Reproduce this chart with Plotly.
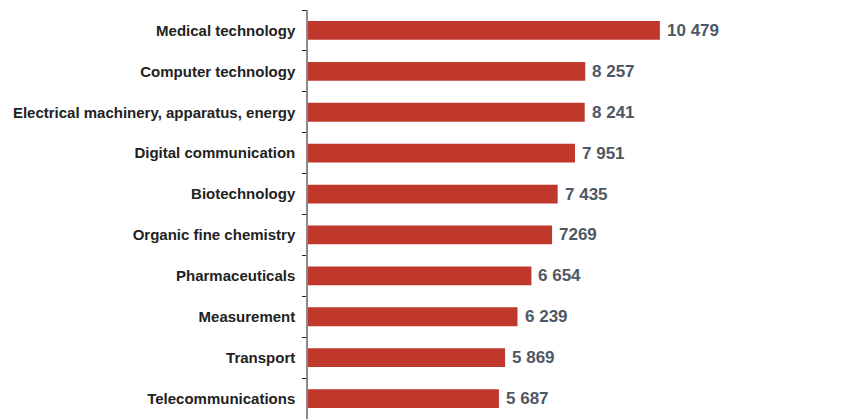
import plotly.graph_objects as go

categories = [
    "Medical technology",
    "Computer technology",
    "Electrical machinery, apparatus, energy",
    "Digital communication",
    "Biotechnology",
    "Organic fine chemistry",
    "Pharmaceuticals",
    "Measurement",
    "Transport",
    "Telecommunications",
]
values = [10479, 8257, 8241, 7951, 7435, 7269, 6654, 6239, 5869, 5687]
value_labels = ["10 479", "8 257", "8 241", "7 951", "7 435", "7269", "6 654", "6 239", "5 869", "5 687"]

fig = go.Figure(
    go.Bar(
        y=categories,
        x=values,
        orientation="h",
        marker=dict(color="#C0372C", line=dict(width=0)),
        width=0.46,
    )
)

for cat, val, lab in zip(categories, values, value_labels):
    fig.add_annotation(
        x=val,
        y=cat,
        text=lab,
        showarrow=False,
        xanchor="left",
        yanchor="middle",
        xshift=5,
        font=dict(family="Liberation Sans", size=17, color="#4E5864", weight="bold"),
    )

fig.update_layout(
    width=855,
    height=419,
    margin=dict(l=308, r=0, t=10, b=0),
    paper_bgcolor="white",
    plot_bgcolor="white",
    showlegend=False,
    xaxis=dict(
        range=[0, 16290],
        visible=False,
        showgrid=False,
        zeroline=False,
    ),
    yaxis=dict(
        autorange="reversed",
        type="category",
        showline=True,
        linecolor="#8A8A8A",
        linewidth=1.5,
        ticks="outside",
        tickson="boundaries",
        ticklen=4,
        tickcolor="#222222",
        tickwidth=1,
        ticklabelstandoff=8,
        tickfont=dict(family="Liberation Sans", size=15, color="#222222", weight="bold"),
        showgrid=False,
    ),
)

fig.write_html("out.html")
